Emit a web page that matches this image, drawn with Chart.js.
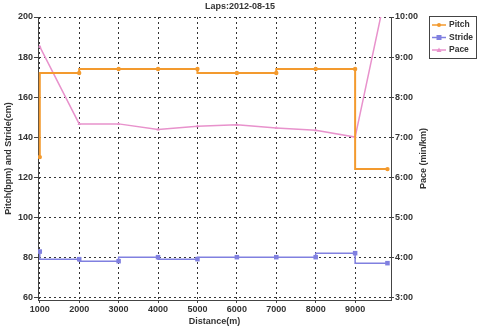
<!DOCTYPE html>
<html>
<head>
<meta charset="utf-8">
<script src="https://cdn.jsdelivr.net/npm/chart.js@4.4.1/dist/chart.umd.min.js"></script>
<style>
    html, body { margin: 0; padding: 0; background: #fff; }
    #wrap { position: relative; width: 480px; height: 329px; }
</style>
</head>
<body>
<div id="wrap"><canvas id="lapsChart" width="480" height="329"></canvas></div>
<script>
// Lap data
const distances = [1000, 2000, 3000, 4000, 5000, 6000, 7000, 8000, 9000, 9820];
const pitch = [130, 172, 174, 174, 174, 172, 172, 174, 174, 124];
const stride = [82.8, 79, 78, 80, 79, 80, 80, 80, 82, 77];
// pace in minutes per km
const pace = [9.26, 7.33, 7.33, 7.19, 7.27, 7.31, 7.23, 7.17, 7.0, 10.8];

const xTicks = [1000, 2000, 3000, 4000, 5000, 6000, 7000, 8000, 9000];
const leftTicks = [60, 80, 100, 120, 140, 160, 180, 200];
const paceTicks = [3, 4, 5, 6, 7, 8, 9, 10];
const chartTitle = 'Laps:2012-08-15';
const paceTitle = 'Pace (min/km)';

const FONT = "'Liberation Sans', Arial, sans-serif";
const TEXT = '#333';

function toPoints(values) {
    return distances.map((d, i) => ({ x: d, y: values[i] }));
}

function formatPace(v) {
    const m = Math.floor(v);
    const s = Math.round((v - m) * 60);
    return m + ':' + String(s).padStart(2, '0');
}

// chart title and the right axis title (read bottom to top)
const titlePlugin = {
    id: 'lapsTitle',
    afterDraw(chart) {
        const ctx = chart.ctx;
        const area = chart.chartArea;
        ctx.save();
        ctx.font = 'bold 9px ' + FONT;
        ctx.fillStyle = TEXT;
        ctx.textAlign = 'center';
        ctx.textBaseline = 'middle';
        ctx.fillText(chartTitle, 240, 7);

        ctx.translate(424, (area.top + area.bottom) / 2);
        ctx.rotate(-Math.PI / 2);
        ctx.fillText(paceTitle, 0, 0);
        ctx.restore();
    }
};

// boxed legend at the top right
const boxLegend = {
    id: 'boxLegend',
    afterDraw(chart) {
        const ctx = chart.ctx;
        const left = 429, top = 16, w = 47, h = 42;
        ctx.save();
        ctx.strokeStyle = '#444';
        ctx.lineWidth = 1;
        ctx.strokeRect(left + 0.5, top + 0.5, w, h);
        ctx.font = 'bold 8.5px ' + FONT;
        ctx.textBaseline = 'middle';
        chart.data.datasets.forEach((ds, i) => {
            const y = top + 9 + i * 12.5;
            ctx.strokeStyle = ds.borderColor;
            ctx.lineWidth = 1.5;
            ctx.beginPath();
            ctx.moveTo(left + 3, y);
            ctx.lineTo(left + 17, y);
            ctx.stroke();
            ctx.fillStyle = ds.borderColor;
            const cx = left + 10;
            if (ds.pointStyle === 'rect') {
                ctx.fillRect(cx - 2.5, y - 2.5, 5, 5);
            } else if (ds.pointStyle === 'triangle') {
                ctx.beginPath();
                ctx.moveTo(cx, y - 2.5);
                ctx.lineTo(cx + 2.5, y + 2);
                ctx.lineTo(cx - 2.5, y + 2);
                ctx.closePath();
                ctx.fill();
            } else {
                ctx.beginPath();
                ctx.arc(cx, y, 2, 0, Math.PI * 2);
                ctx.fill();
            }
            ctx.fillStyle = TEXT;
            ctx.fillText(ds.label, left + 20, y);
        });
        ctx.restore();
    }
};

const gridDash = [2, 3];
const gridColor = '#333';

new Chart(document.getElementById('lapsChart'), {
    type: 'line',
    data: {
        datasets: [{
            label: 'Pitch',
            data: toPoints(pitch),
            yAxisID: 'y',
            borderColor: '#f39a2e',
            backgroundColor: '#f39a2e',
            borderWidth: 2,
            stepped: 'after',
            pointStyle: 'circle',
            pointRadius: 2.2,
            pointBorderWidth: 0
        }, {
            label: 'Stride',
            data: toPoints(stride),
            yAxisID: 'y',
            borderColor: '#8080e0',
            backgroundColor: '#8080e0',
            borderWidth: 1.5,
            stepped: 'after',
            pointStyle: 'rect',
            pointRadius: 3.2,
            pointBorderWidth: 0
        }, {
            label: 'Pace',
            data: toPoints(pace),
            yAxisID: 'y2',
            borderColor: '#e892cc',
            backgroundColor: '#e892cc',
            borderWidth: 1.5,
            tension: 0,
            pointStyle: 'triangle',
            pointRadius: 2,
            pointBorderWidth: 0
        }]
    },
    options: {
        responsive: false,
        animation: false,
        layout: { padding: { top: 17, right: 48, left: 0, bottom: 0 } },
        plugins: {
            legend: { display: false },
            tooltip: { enabled: false }
        },
        scales: {
            x: {
                type: 'linear',
                min: 955,
                max: 9910,
                afterBuildTicks: (s) => { s.ticks = xTicks.map(v => ({ value: v })); },
                afterFit: (s) => { s.height = 29; },
                grid: { color: gridColor, tickLength: 3, tickColor: '#444' },
                border: { color: '#444', width: 1, dash: gridDash },
                ticks: {
                    color: TEXT, font: { family: FONT, size: 9, weight: 'bold' },
                    padding: 1, maxRotation: 0, autoSkip: false,
                    callback: (v) => String(v)
                },
                title: {
                    display: true, text: 'Distance(m)', color: TEXT,
                    font: { family: FONT, size: 9, weight: 'bold' },
                    padding: { top: 0, bottom: 2 }
                }
            },
            y: {
                position: 'left',
                min: 58.6,
                max: 200,
                afterBuildTicks: (s) => { s.ticks = leftTicks.map(v => ({ value: v })); },
                afterFit: (s) => { s.width = 38; },
                grid: { color: gridColor, tickLength: 4, tickColor: '#444' },
                border: { color: '#444', width: 1, dash: gridDash },
                ticks: {
                    color: TEXT,
                    font: { family: FONT, size: 9, weight: 'bold' }, padding: 1
                },
                title: {
                    display: true, text: 'Pitch(bpm) and Stride(cm)', color: TEXT,
                    font: { family: FONT, size: 9, weight: 'bold' },
                    padding: { top: 3, bottom: 0 }
                }
            },
            y2: {
                position: 'right',
                min: 2.93,
                max: 10,
                afterBuildTicks: (s) => { s.ticks = paceTicks.map(v => ({ value: v })); },
                afterFit: (s) => { s.width = 41; },
                grid: { drawOnChartArea: false, tickLength: 3, tickColor: '#444' },
                border: { color: '#444', width: 1 },
                ticks: {
                    color: TEXT, callback: (v) => formatPace(v),
                    font: { family: FONT, size: 9, weight: 'bold' }, padding: 1
                }
            }
        }
    },
    plugins: [titlePlugin, boxLegend]
});
</script>
</body>
</html>
